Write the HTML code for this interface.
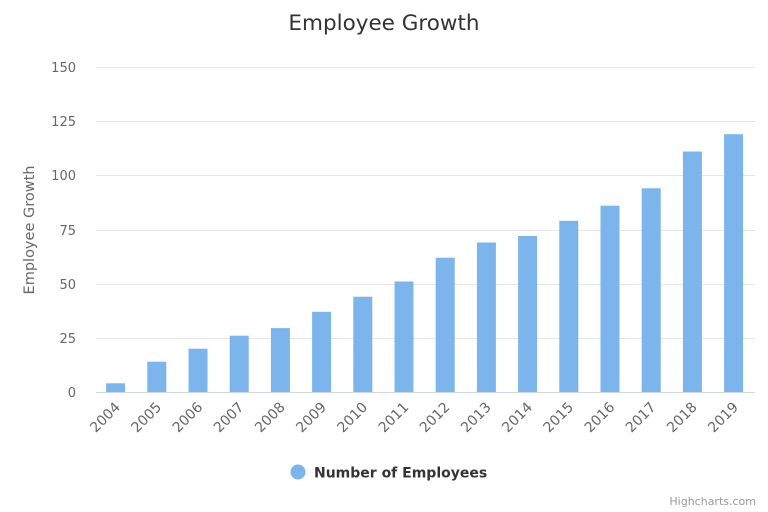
<!DOCTYPE html>
<html><head><meta charset="utf-8"><style>body{margin:0;background:#fff}svg{display:block;font-family:"DejaVu Sans","Liberation Sans",sans-serif}</style></head><body>
<svg width="768" height="512" xmlns="http://www.w3.org/2000/svg">
<text x="384" y="30" text-anchor="middle" font-size="21.5" fill="#333">Employee Growth</text>
<g stroke="#e6e6e6" stroke-width="1">
<line x1="96" x2="755" y1="67.5" y2="67.5"/><line x1="96" x2="755" y1="121.5" y2="121.5"/><line x1="96" x2="755" y1="175.5" y2="175.5"/><line x1="96" x2="755" y1="230.5" y2="230.5"/><line x1="96" x2="755" y1="284.5" y2="284.5"/><line x1="96" x2="755" y1="338.5" y2="338.5"/>
</g>
<g font-size="13" fill="#666" text-anchor="end">
<text x="76" y="72">150</text><text x="76" y="126">125</text><text x="76" y="180">100</text><text x="76" y="235">75</text><text x="76" y="289">50</text><text x="76" y="343">25</text><text x="76" y="397">0</text>
</g>
<text transform="translate(34,230) rotate(-90)" text-anchor="middle" font-size="14.5" fill="#666">Employee Growth</text>
<g fill="#7cb5ec">
<rect x="106.1" y="383.3" width="19" height="8.7"/>
<rect x="147.3" y="361.7" width="19" height="30.3"/>
<rect x="188.5" y="348.7" width="19" height="43.3"/>
<rect x="229.7" y="335.7" width="19" height="56.3"/>
<rect x="270.9" y="328.1" width="19" height="63.9"/>
<rect x="312.1" y="311.8" width="19" height="80.2"/>
<rect x="353.3" y="296.7" width="19" height="95.3"/>
<rect x="394.5" y="281.5" width="19" height="110.5"/>
<rect x="435.7" y="257.7" width="19" height="134.3"/>
<rect x="476.9" y="242.5" width="19" height="149.5"/>
<rect x="518.1" y="236" width="19" height="156"/>
<rect x="559.3" y="220.8" width="19" height="171.2"/>
<rect x="600.5" y="205.7" width="19" height="186.3"/>
<rect x="641.7" y="188.3" width="19" height="203.7"/>
<rect x="682.9" y="151.5" width="19" height="240.5"/>
<rect x="724.1" y="134.2" width="19" height="257.8"/>
</g>
<line x1="96" x2="755" y1="392.5" y2="392.5" stroke="#ccd6eb"/>
<g font-size="14" fill="#666" text-anchor="end">
<text transform="translate(121,408) rotate(-45)">2004</text>
<text transform="translate(162.2,408) rotate(-45)">2005</text>
<text transform="translate(203.4,408) rotate(-45)">2006</text>
<text transform="translate(244.6,408) rotate(-45)">2007</text>
<text transform="translate(285.8,408) rotate(-45)">2008</text>
<text transform="translate(327,408) rotate(-45)">2009</text>
<text transform="translate(368.2,408) rotate(-45)">2010</text>
<text transform="translate(409.4,408) rotate(-45)">2011</text>
<text transform="translate(450.6,408) rotate(-45)">2012</text>
<text transform="translate(491.8,408) rotate(-45)">2013</text>
<text transform="translate(533,408) rotate(-45)">2014</text>
<text transform="translate(574.2,408) rotate(-45)">2015</text>
<text transform="translate(615.4,408) rotate(-45)">2016</text>
<text transform="translate(656.6,408) rotate(-45)">2017</text>
<text transform="translate(697.8,408) rotate(-45)">2018</text>
<text transform="translate(739,408) rotate(-45)">2019</text>
</g>
<circle cx="298" cy="472" r="7.5" fill="#7cb5ec"/>
<text x="314" y="477.5" font-size="14" font-weight="bold" fill="#333">Number of Employees</text>
<text x="756" y="505" text-anchor="end" font-size="11" fill="#999">Highcharts.com</text>
</svg>
</body></html>
